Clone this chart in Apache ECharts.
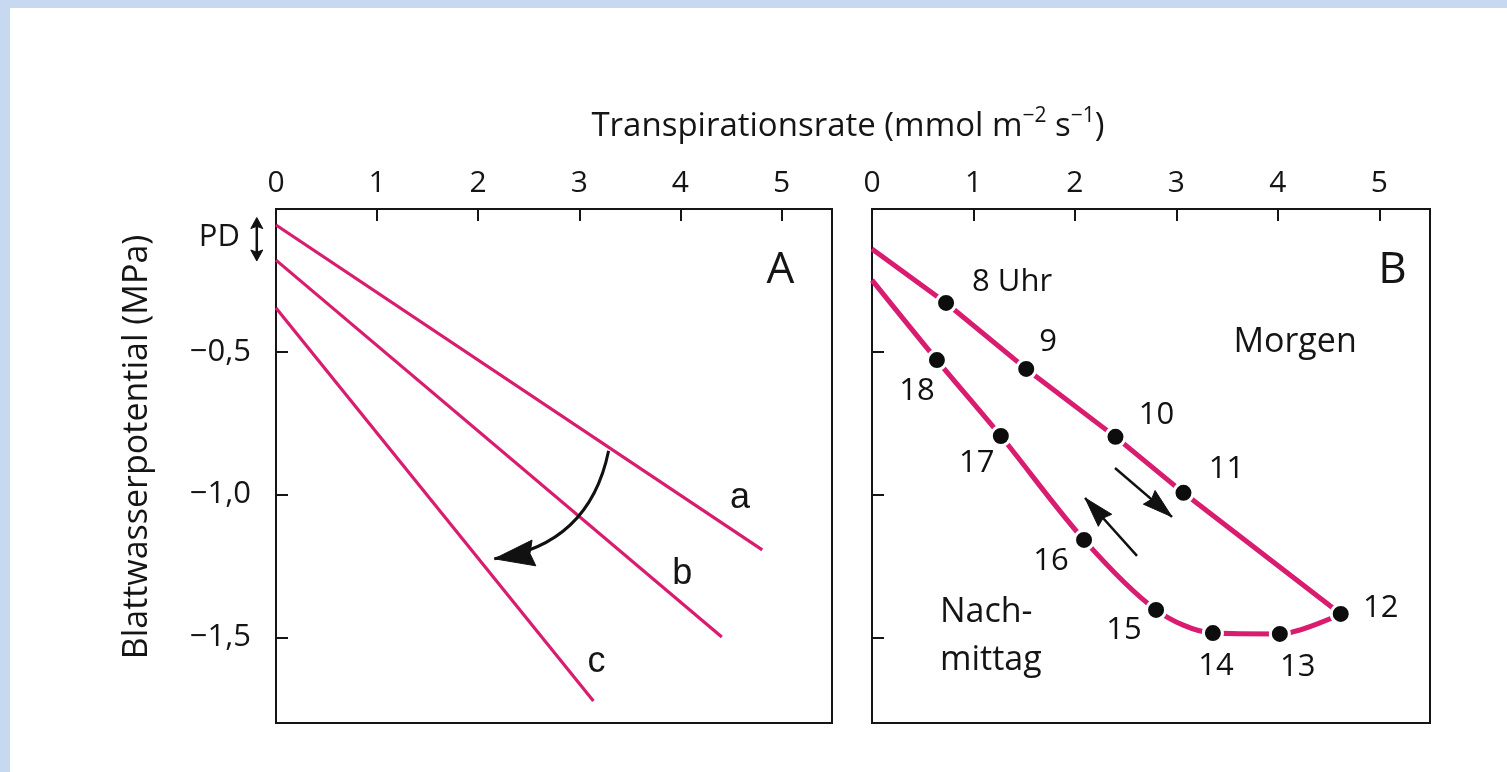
<!DOCTYPE html>
<html>
<head>
<meta charset="utf-8">
<script src="https://cdn.jsdelivr.net/npm/echarts@6/dist/echarts.min.js"></script>
<style>
html,body{margin:0;padding:0;width:1507px;height:772px;overflow:hidden;background:#c6d9f1;}
#page{position:absolute;left:10px;top:8px;width:1497px;height:764px;background:#ffffff;}
#chart{position:absolute;left:0;top:0;width:1507px;height:772px;}
</style>
</head>
<body>
<div id="page"></div>
<div id="chart"></div>
<script>
// ---------- data ----------
const xTicks = [0, 1, 2, 3, 4, 5];
const yTicks = [-0.5, -1.0, -1.5];

// Panel A: straight lines (start at x=0, end point)
const lineNames = ['a', 'b', 'c'];
const lineStartY = [-0.056, -0.179, -0.347];
const lineEndX = [4.81, 4.41, 3.14];
const lineEndY = [-1.194, -1.499, -1.723];

// Panel B: daily course
const morningLabels = ['8 Uhr', '9', '10', '11', '12'];
const morningX = [0.73, 1.52, 2.40, 3.07, 4.62];
const morningY = [-0.329, -0.560, -0.798, -0.994, -1.418];
const morningStartY = -0.140;

const afternoonLabels = ['13', '14', '15', '16', '17', '18'];
const afternoonX = [4.02, 3.36, 2.80, 2.09, 1.27, 0.64];
const afternoonY = [-1.488, -1.485, -1.404, -1.159, -0.795, -0.529];
const afternoonStartY = -0.249;

// annotation arrows (data coordinates)
const curveArrowFrom = [3.29, -0.847];
const curveArrowTo = [2.16, -1.225];
const morningArrow = [[2.395, -0.907], [2.957, -1.078]];
const afternoonArrow = [[2.612, -1.215], [2.10, -1.012]];

// ---------- styling ----------
const F = '"Open Sans", "Noto Sans", sans-serif';
const ARIAL = '"Liberation Sans", Arial, sans-serif';
const INK = '#151515';
const MAG = '#d91c6f';
const CURVE = 0.35;
const labelOffsets = {
  '8 Uhr': [66, -21], '9': [22, -27], '10': [41, -22], '11': [43, -24], '12': [40, -6],
  '13': [18, 33], '14': [3, 33], '15': [-32, 20], '16': [-33, 21], '17': [-24, 27], '18': [-20, 31]
};

const chart = echarts.init(document.getElementById('chart'), null, {renderer: 'canvas'});

const grids = [
  {left: 276, top: 209, width: 556, height: 514},
  {left: 872, top: 209, width: 558, height: 514}
];

function xAxisCfg(i) {
  return {
    gridIndex: i, type: 'value', position: 'top', min: 0, max: 5.5,
    axisLine: {show: true, lineStyle: {color: INK, width: 2}},
    axisTick: {show: true, inside: true, length: 12, customValues: xTicks, lineStyle: {color: INK, width: 2}},
    axisLabel: {show: true, customValues: xTicks, margin: 11, fontSize: 30, fontFamily: F, color: INK},
    splitLine: {show: false}
  };
}
function yAxisCfg(i) {
  return {
    gridIndex: i, type: 'value', min: -1.8, max: 0,
    axisLine: {show: true, onZero: false, lineStyle: {color: INK, width: 2}},
    axisTick: {show: true, inside: true, length: 12, customValues: yTicks, lineStyle: {color: INK, width: 2}},
    axisLabel: {show: i === 0, customValues: yTicks, margin: 25, fontSize: 31, fontFamily: F, color: INK,
      formatter: v => '\u2212' + Math.abs(v).toFixed(1).replace('.', ',')},
    splitLine: {show: false}
  };
}

const series = [];
// Panel A lines
lineNames.forEach((n, k) => {
  series.push({
    type: 'line', name: n, xAxisIndex: 0, yAxisIndex: 0,
    data: [[0, lineStartY[k]], [lineEndX[k], lineEndY[k]]],
    showSymbol: false, symbol: 'none', silent: true,
    lineStyle: {color: MAG, width: 3.2}, z: 3, animation: false
  });
});
// Panel B lines
series.push({
  type: 'line', name: 'Morgen', xAxisIndex: 1, yAxisIndex: 1,
  data: [[0, morningStartY]].concat(morningX.map((x, k) => [x, morningY[k]])),
  showSymbol: false, symbol: 'none', silent: true,
  lineStyle: {color: MAG, width: 5}, z: 3, animation: false
});
series.push({
  type: 'line', name: 'Nachmittag', xAxisIndex: 1, yAxisIndex: 1,
  data: [[morningX[morningX.length - 1], morningY[morningY.length - 1]]]
    .concat(afternoonX.map((x, k) => [x, afternoonY[k]]))
    .concat([[0, afternoonStartY]]),
  smooth: 0.3, showSymbol: false, symbol: 'none', silent: true,
  lineStyle: {color: MAG, width: 5}, z: 3, animation: false
});
// Panel B dots with hour labels
const dotData = [];
morningLabels.forEach((l, k) => dotData.push({name: l, value: [morningX[k], morningY[k]]}));
afternoonLabels.forEach((l, k) => dotData.push({name: l, value: [afternoonX[k], afternoonY[k]]}));
series.push({
  type: 'scatter', xAxisIndex: 1, yAxisIndex: 1, z: 5, silent: true, animation: false,
  symbol: 'circle', symbolSize: 19,
  itemStyle: {color: '#0d0d0d', borderColor: '#ffffff', borderWidth: 3, opacity: 1},
  data: dotData.map(d => ({
    name: d.name, value: d.value,
    label: {show: true, position: 'inside', offset: labelOffsets[d.name], formatter: '{b}',
      fontSize: 31, fontFamily: F, color: '#111111', textBorderWidth: 0, opacity: 1,
      align: 'center', verticalAlign: 'middle'}
  }))
});
// curved arrow shaft – panel A
series.push({
  type: 'lines', coordinateSystem: 'cartesian2d', xAxisIndex: 0, yAxisIndex: 0,
  silent: true, animation: false, z: 6, symbol: 'none',
  lineStyle: {color: '#111', width: 3, opacity: 1, curveness: CURVE},
  data: [{coords: [curveArrowFrom, curveArrowTo]}]
});
// straight arrow shafts – panel B
series.push({
  type: 'lines', coordinateSystem: 'cartesian2d', xAxisIndex: 1, yAxisIndex: 1,
  silent: true, animation: false, z: 6, symbol: 'none',
  lineStyle: {color: '#111', width: 2.5, opacity: 1, curveness: 0},
  data: [{coords: morningArrow}, {coords: afternoonArrow}]
});

chart.setOption({
  backgroundColor: 'transparent',
  animation: false,
  grid: grids.map(g => Object.assign({show: true, borderColor: INK, borderWidth: 2, backgroundColor: 'transparent', containLabel: false}, g)),
  xAxis: [xAxisCfg(0), xAxisCfg(1)],
  yAxis: [yAxisCfg(0), yAxisCfg(1)],
  series: series
});

const gfx = [];
// arrowheads: tip at the data end point, oriented along the shaft's end direction
function arrowHead(tipPx, dirFromPx, L, W, notch) {
  let ux = tipPx[0] - dirFromPx[0], uy = tipPx[1] - dirFromPx[1];
  const len = Math.hypot(ux, uy); ux /= len; uy /= len;
  const nx = -uy, ny = ux;
  const bx = tipPx[0] - ux * L, by = tipPx[1] - uy * L;
  return {
    type: 'polygon', silent: true, z: 12,
    shape: {points: [
      [tipPx[0], tipPx[1]],
      [bx + nx * W / 2, by + ny * W / 2],
      [tipPx[0] - ux * L * notch, tipPx[1] - uy * L * notch],
      [bx - nx * W / 2, by - ny * W / 2]
    ]},
    style: {fill: '#111', stroke: '#111', lineWidth: 1}
  };
}
const p1 = chart.convertToPixel({gridIndex: 0}, curveArrowFrom);
const p2 = chart.convertToPixel({gridIndex: 0}, curveArrowTo);
const cp = [(p1[0] + p2[0]) / 2 - (p1[1] - p2[1]) * CURVE, (p1[1] + p2[1]) / 2 - (p2[0] - p1[0]) * CURVE];
gfx.push(arrowHead(p2, cp, 40, 26, 0.9));
[morningArrow, afternoonArrow].forEach(a => {
  const s = chart.convertToPixel({gridIndex: 1}, a[0]);
  const t = chart.convertToPixel({gridIndex: 1}, a[1]);
  gfx.push(arrowHead(t, s, 30, 18, 0.9));
});

// ---------- text annotations anchored in data coordinates ----------
const notes = [
  {g: 0, at: [4.99, -0.214], text: 'A', font: F, size: 44, align: 'center'},
  {g: 1, at: [5.13, -0.214], text: 'B', font: F, size: 44, align: 'center'},
  {g: 0, at: [4.59, -1.012], text: 'a', font: ARIAL, size: 36, align: 'center'},
  {g: 0, at: [4.02, -1.278], text: 'b', font: ARIAL, size: 36, align: 'center'},
  {g: 0, at: [3.17, -1.586], text: 'c', font: ARIAL, size: 36, align: 'center'},
  {g: 0, at: [-0.56, -0.098], text: 'PD', font: F, size: 31, align: 'center'},
  {g: 1, at: [4.17, -0.466], text: 'Morgen', font: F, size: 34, align: 'center'},
  {g: 1, at: [0.67, -1.495], text: 'Nach-\nmittag', font: F, size: 34, align: 'left', lh: 48}
];
notes.forEach(n => {
  const p = chart.convertToPixel({gridIndex: n.g}, n.at);
  gfx.push({
    type: 'text', x: p[0], y: p[1], silent: true, z: 10,
    style: {text: n.text, fontFamily: n.font, fontSize: n.size, fill: INK,
      align: n.align, verticalAlign: 'middle', lineHeight: n.lh || n.size * 1.2}
  });
});
// y-axis title (rotated)
gfx.push({
  type: 'text', x: grids[0].left - 139, y: grids[0].top + 238, rotation: Math.PI / 2, silent: true,
  style: {text: 'Blattwasserpotential (MPa)', fontFamily: F, fontSize: 34, fill: INK,
    align: 'center', verticalAlign: 'middle'}
});
// PD double arrow (left of panel A)
const pdTop = chart.convertToPixel({gridIndex: 0}, [-0.19, -0.03]);
const pdBot = chart.convertToPixel({gridIndex: 0}, [-0.19, -0.182]);
gfx.push({type: 'line', silent: true, z: 10,
  shape: {x1: pdTop[0], y1: pdTop[1] + 8, x2: pdBot[0], y2: pdBot[1] - 8},
  style: {stroke: '#111', lineWidth: 2.5}});
gfx.push(arrowHead(pdTop, pdBot, 11, 12, 0.8));
gfx.push(arrowHead(pdBot, pdTop, 11, 12, 0.8));
// axis title across both panels
const tx = (grids[0].left + grids[1].left + grids[1].width) / 2;
gfx.push({
  type: 'text', x: tx - 5, y: 127, silent: true,
  style: {
    text: '{m|Transpirationsrate (mmol m}{s|\u22122}{m| s}{s|\u22121}{m|)}',
    align: 'center', verticalAlign: 'middle',
    rich: {
      m: {fontSize: 33, fontFamily: F, fill: INK},
      s: {fontSize: 21, fontFamily: F, fill: INK, padding: [0, 0, 22, 0]}
    }
  }
});
chart.setOption({graphic: gfx});
</script>
</body>
</html>
